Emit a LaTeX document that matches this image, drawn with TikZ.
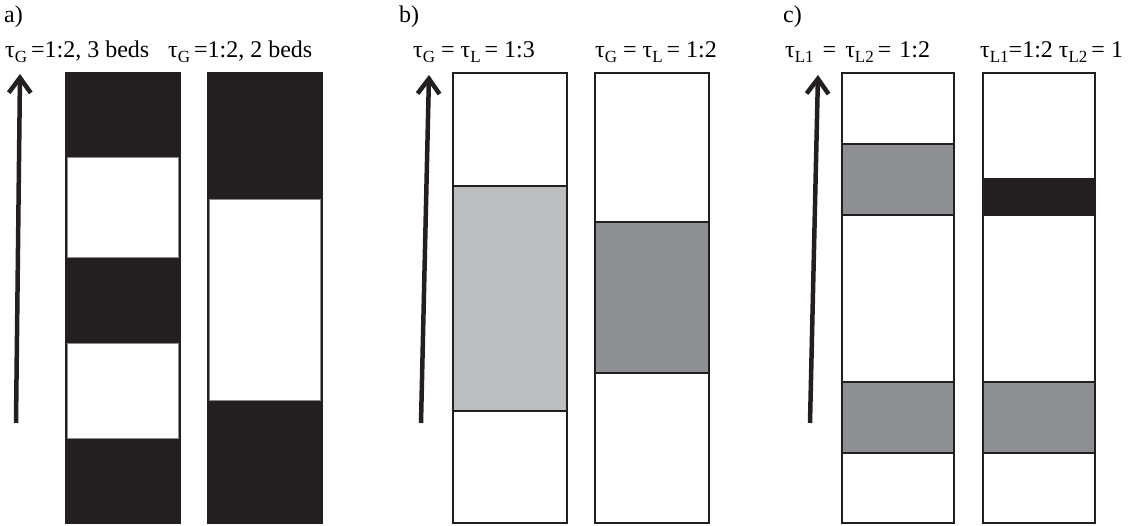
\documentclass[tikz,border=0pt]{standalone}
\usepackage{fontspec}
\setmainfont{Liberation Serif}
\usetikzlibrary{arrows.meta}
\definecolor{ink}{HTML}{231F20}
\definecolor{lgray}{HTML}{BCBEC0}
\definecolor{dgray}{HTML}{8D8F92}
\definecolor{edgegray}{HTML}{8A8A8A}
\newcommand{\sbx}[1]{\raisebox{-0.22em}{\fontsize{17}{20}\selectfont #1}}
\begin{document}
\begin{tikzpicture}[x=1pt,y=-1pt,
  lbl/.style={anchor=base west, inner sep=0pt, font=\fontsize{24}{28}\selectfont},
  seg/.style={draw=ink, line width=2pt},
  blackcol/.style={fill=ink, draw=ink, line width=1pt},
  whitegap/.style={fill=white, draw=edgegray, line width=0.7pt},
  flow/.style={draw=ink, line width=4.5pt, line cap=butt,
    -{Straight Barb[length=15pt,width=22pt,line width=4.5pt]}}]
\useasboundingbox (0,0) rectangle (1146,525);

% ---------- labels ----------
\node[lbl] (la) at (4,22) {a)};
\node[lbl] (lb) at (399,22) {b)};
\node[lbl] (lc) at (783,22) {c)};
\node[lbl] (ta1) at (5,57) {τ\sbx{G}\,=1:2, 3 beds};
\node[lbl] (ta2) at (168,57) {τ\sbx{G}\,=1:2, 2 beds};
\node[lbl] (tb1) at (413,57) {τ\sbx{G} = τ\sbx{L}\,= 1:3};
\node[lbl] (tb2) at (595,57) {τ\sbx{G} = τ\sbx{L}\,= 1:2};
\node[lbl] (tc1) at (785,57) {τ\sbx{L1}\hspace{3pt} = \hspace{3pt}τ\sbx{L2}\,= \hspace{2pt}1:2};
\node[lbl] (tc2) at (980,57) {τ\sbx{L1}=1:2 τ\sbx{L2}\,= 1};

% ---------- arrows ----------
\coordinate (a0) at (16,423); \coordinate (a1) at (20,74);
\coordinate (b0) at (421,423); \coordinate (b1) at (429,75);
\coordinate (c0) at (810,423); \coordinate (c1) at (818,75);
\draw[flow] (a0) -- (a1);
\draw[flow] (b0) -- (b1);
\draw[flow] (c0) -- (c1);

% ---------- panel a ----------
\draw[blackcol] (65,72) rectangle (180,523);
\draw[whitegap] (67,157) rectangle (178,257);
\draw[whitegap] (67,343) rectangle (178,438);
\draw[blackcol] (207,72) rectangle (322,523);
\draw[whitegap] (209,199) rectangle (320,400);

% ---------- panel b ----------
\fill[lgray] (453,186) rectangle (567,411);
\draw[seg] (453,73) rectangle (567,523);
\draw[seg] (453,186) -- (567,186);
\draw[seg] (453,411) -- (567,411);

\fill[dgray] (595,222) rectangle (709,373);
\draw[seg] (595,73) rectangle (709,523);
\draw[seg] (595,222) -- (709,222);
\draw[seg] (595,373) -- (709,373);

% ---------- panel c ----------
\fill[dgray] (842,144) rectangle (954,215);
\fill[dgray] (842,382) rectangle (954,453);
\draw[seg] (842,73) rectangle (954,523);
\draw[seg] (842,144) -- (954,144);
\draw[seg] (842,215) -- (954,215);
\draw[seg] (842,382) -- (954,382);
\draw[seg] (842,453) -- (954,453);

\fill[ink] (983,178) rectangle (1095,216);
\fill[dgray] (983,382) rectangle (1095,453);
\draw[seg] (983,73) rectangle (1095,523);
\draw[seg] (983,382) -- (1095,382);
\draw[seg] (983,453) -- (1095,453);
\end{tikzpicture}
\end{document}
